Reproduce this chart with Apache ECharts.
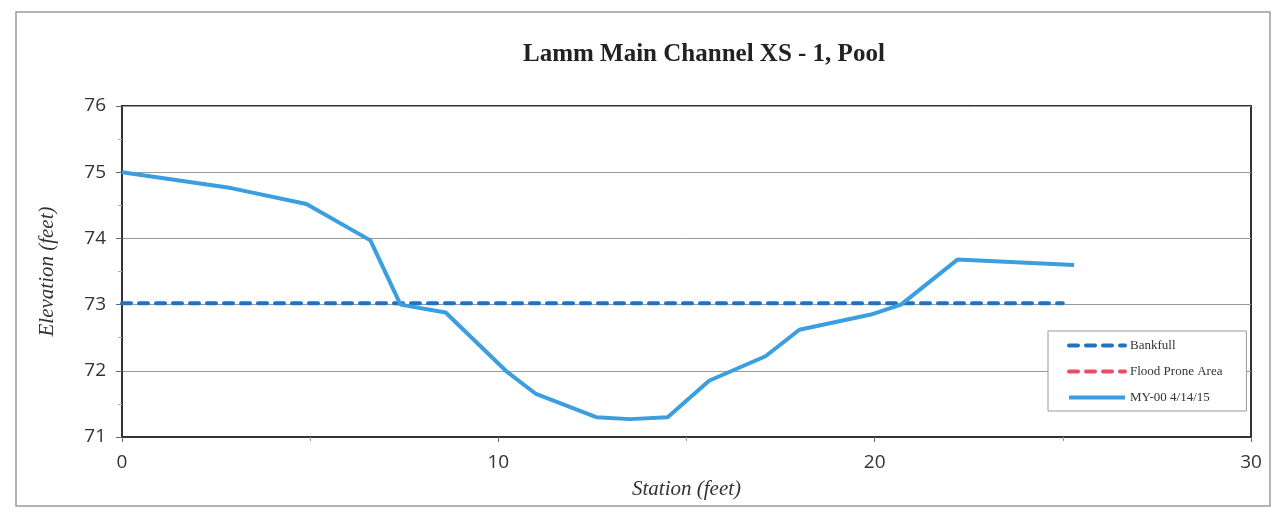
<!DOCTYPE html>
<html><head><meta charset="utf-8">
<script src="https://cdn.jsdelivr.net/npm/echarts@6/dist/echarts.min.js"></script>
<style>html,body{margin:0;padding:0;background:#fff}#c{width:1277px;height:518px}</style>
</head><body><div id="c"></div>
<script>
const titleText = 'Lamm Main Channel XS - 1, Pool';
const xTicks = [0, 10, 20, 30];
const yTicks = [71, 72, 73, 74, 75, 76];
const seriesNames = ['Bankfull', 'Flood Prone Area', 'MY-00 4/14/15'];
const bankfullStation = [0, 25.0];
const bankfullElev = [73.02, 73.02];
const floodStation = [];
const floodElev = [];
const myStation = [0, 2.9, 4.9, 6.6, 7.4, 8.6, 10.2, 11.0, 12.6, 13.5, 14.5, 15.6, 17.1, 18.0, 19.9, 20.7, 22.2, 25.3];
const myElev =    [75.0, 74.76, 74.52, 73.97, 73.0, 72.88, 72.0, 71.65, 71.3, 71.27, 71.3, 71.85, 72.22, 72.62, 72.85, 73.0, 73.68, 73.6];

const pair = (xs, ys) => xs.map((x, i) => [x, ys[i]]);
const chart = echarts.init(document.getElementById('c'));
const serif = '"Liberation Serif", "DejaVu Serif", serif';
const sans = '"Open Sans", "Liberation Sans", sans-serif';
const dash = [9, 8];
chart.setOption({
  animation: false,
  backgroundColor: '#fff',
  graphic: [{type: 'rect', shape: {x: 16, y: 12, width: 1254, height: 494}, style: {fill: 'none', stroke: '#9a9a9a', lineWidth: 1.5}, z: -1}],
  title: {text: titleText, left: 518, top: 37, textStyle: {fontFamily: serif, fontWeight: 'bold', fontSize: 25, color: '#222'}},
  grid: {left: 122, right: 26, top: 106, bottom: 81, show: true, borderColor: '#333', borderWidth: 2, backgroundColor: '#fff'},
  legend: {
    orient: 'vertical', left: 1048, top: 331,
    backgroundColor: '#fff', borderColor: '#999', borderWidth: 1,
    padding: [8, 24, 7, 19], itemGap: 13, itemWidth: 56, itemHeight: 14,
    itemStyle: {opacity: 0, borderWidth: 0},
    lineStyle: {width: 4},
    textStyle: {fontFamily: serif, fontSize: 13, color: '#333', padding: [0, 0, 0, 0]},
    data: seriesNames
  },
  xAxis: {
    type: 'value', min: 0, max: 30, interval: 10,
    name: 'Station (feet)', nameLocation: 'middle', nameGap: 42,
    nameTextStyle: {fontFamily: serif, fontStyle: 'italic', fontSize: 21, color: '#333'},
    axisLine: {show: true, lineStyle: {color: '#333', width: 2}},
    axisTick: {show: true, length: 5, lineStyle: {color: '#666'}},
    minorTick: {show: true, splitNumber: 2, length: 4, lineStyle: {color: '#999'}},
    splitLine: {show: false},
    axisLabel: {fontFamily: sans, fontSize: 19, color: '#333', margin: 16, formatter: v => xTicks.includes(v) ? String(v) : ''}
  },
  yAxis: {
    type: 'value', min: 71, max: 76, interval: 1,
    name: 'Elevation (feet)', nameLocation: 'middle', nameGap: 64,
    nameTextStyle: {fontFamily: serif, fontStyle: 'italic', fontSize: 21, color: '#333'},
    axisLine: {show: true, lineStyle: {color: '#333', width: 2}},
    axisTick: {show: true, length: 6, lineStyle: {color: '#666'}},
    minorTick: {show: true, splitNumber: 2, length: 4, lineStyle: {color: '#aaa'}},
    splitLine: {show: true, lineStyle: {color: '#9a9a9a', width: 1}},
    axisLabel: {fontFamily: sans, fontSize: 19, color: '#333', margin: 16, formatter: v => yTicks.includes(v) ? String(v) : ''}
  },
  series: [
    {name: seriesNames[0], type: 'line', data: pair(bankfullStation, bankfullElev), symbol: 'none', z: 3,
     lineStyle: {color: '#2272c3', width: 4, type: dash, cap: 'round'}, itemStyle: {color: '#2272c3'}},
    {name: seriesNames[1], type: 'line', data: pair(floodStation, floodElev), symbol: 'none',
     lineStyle: {color: '#ee4a63', width: 4, type: dash, cap: 'round'}, itemStyle: {color: '#ee4a63'}},
    {name: seriesNames[2], type: 'line', data: pair(myStation, myElev), symbol: 'none', z: 4,
     lineStyle: {color: '#3a9ee0', width: 4}, itemStyle: {color: '#3a9ee0'}}
  ]
});
</script></body></html>
